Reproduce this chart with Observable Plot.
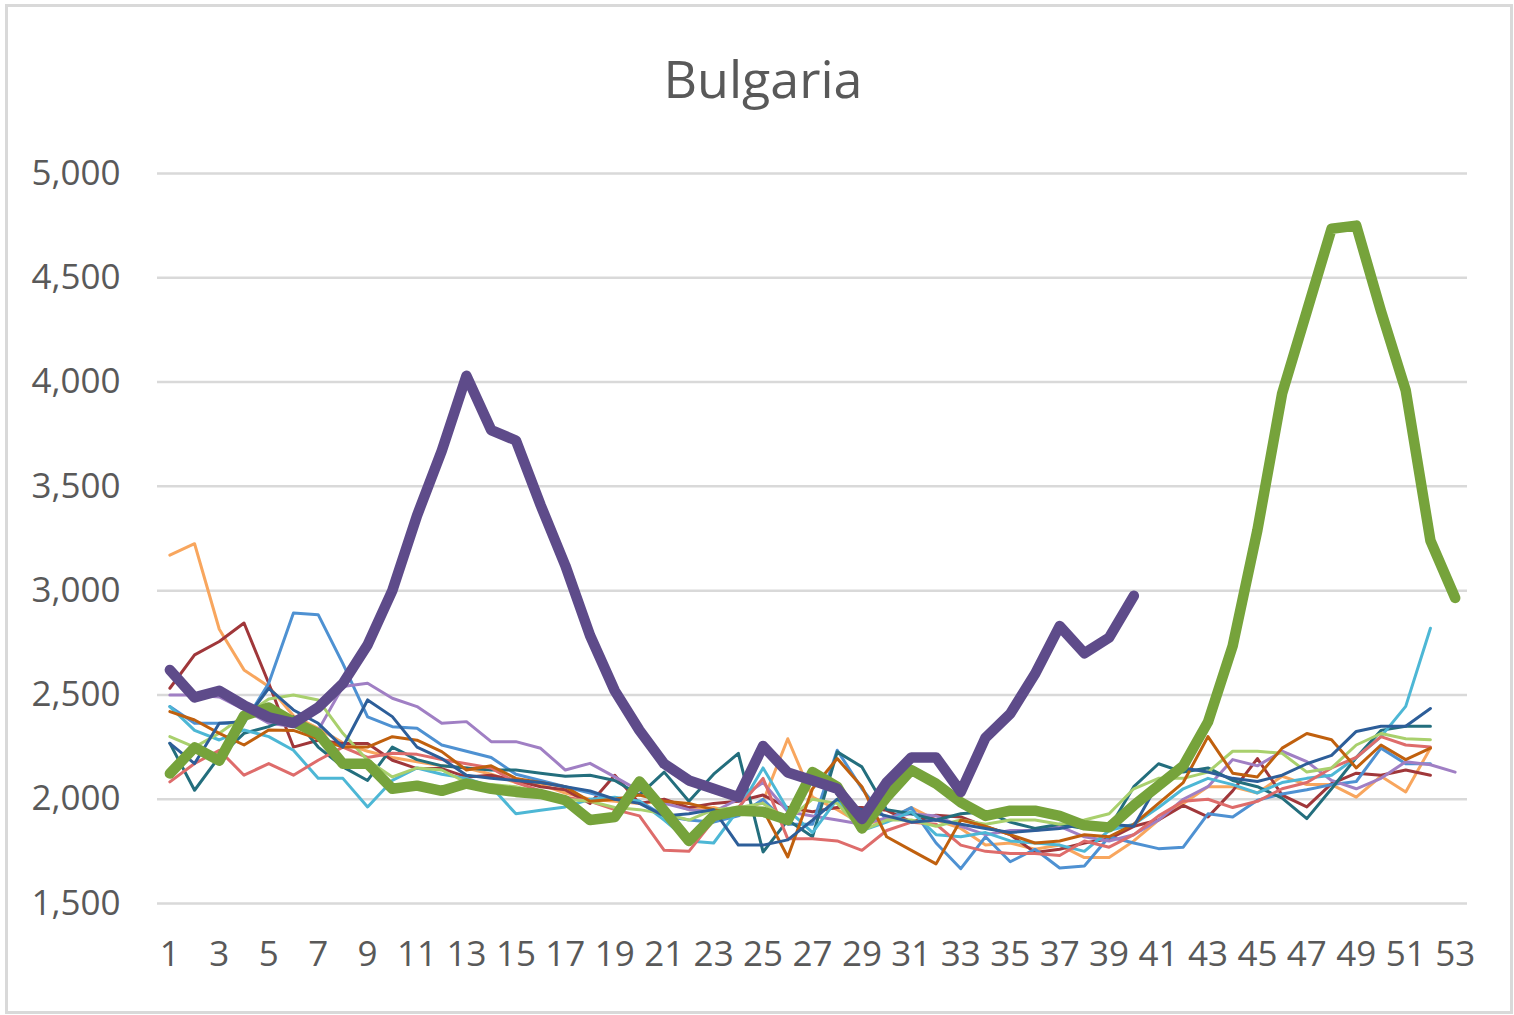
<!DOCTYPE html>
<html><head><meta charset="utf-8">
<script src="https://cdn.jsdelivr.net/npm/d3@7"></script>
<script src="https://cdn.jsdelivr.net/npm/@observablehq/plot@0.6"></script>
<style>
body{margin:0;background:#fff;}
#frame{position:absolute;left:5px;top:4px;width:1508px;height:1010px;border:3px solid #d9d9d9;box-sizing:border-box;pointer-events:none;}
#title{position:absolute;left:0;top:52px;width:1526px;text-align:center;font:52px/52px "Open Sans";color:#595959;}
#chart{position:absolute;left:0;top:130px;}
</style></head><body>
<div id="title">Bulgaria</div>
<div id="chart"></div>
<div id="frame"></div>
<script>
// ---- data (weekly deaths, Bulgaria) ----
const chartTitle = "Bulgaria";
const xTicks = [1,3,5,7,9,11,13,15,17,19,21,23,25,27,29,31,33,35,37,39,41,43,45,47,49,51,53];
const yTicks = [1500,2000,2500,3000,3500,4000,4500,5000];

const s_lightOrange = [3170,3225,2815,2620,2540,2400,2340,2270,2230,2200,2180,2160,2150,2120,2080,2070,2030,2000,1990,1980,1990,1950,1960,1930,1990,2290,2010,1950,1880,1900,1960,1900,1860,1780,1790,1760,1780,1720,1720,1800,1900,1980,2060,2060,2030,2110,2070,2070,2010,2110,2035,2245];
const s_darkRed = [2532,2692,2756,2845,2556,2250,2283,2267,2267,2187,2147,2147,2107,2115,2090,2060,2045,1980,2115,1980,2000,1960,1980,1990,2020,1960,1940,1960,1960,1947,1891,1923,1915,1870,1830,1745,1760,1790,1810,1870,1900,1970,1915,2040,2195,2020,1963,2075,2125,2115,2140,2115];
const s_lightBlue = [2444,2364,2364,2364,2556,2893,2885,2650,2395,2348,2340,2260,2230,2200,2120,2090,2060,2030,2000,1990,1920,1900,1890,1920,2000,1880,1880,2235,2050,1900,1960,1790,1667,1820,1700,1760,1670,1680,1820,1790,1763,1770,1930,1915,1995,2025,2045,2070,2085,2245,2170,2170];
const s_lightPurple = [2500,2500,2490,2430,2364,2348,2330,2540,2556,2484,2444,2364,2372,2276,2276,2244,2140,2172,2107,2040,1980,1950,1940,2000,2080,1940,1920,1900,1880,1910,1930,1920,1870,1830,1850,1850,1870,1820,1800,1830,1900,2000,2060,2190,2160,2230,2180,2090,2050,2100,2180,2165,2130];
const s_darkTeal = [2268,2043,2204,2316,2348,2395,2250,2155,2090,2250,2190,2160,2150,2140,2140,2125,2110,2115,2090,2020,2130,1990,2120,2220,1747,1900,1820,2227,2155,1950,1930,1900,1930,1940,1890,1860,1880,1860,1860,2060,2170,2130,2150,2090,2060,2005,1907,2050,2200,2330,2350,2350];
const s_cyan = [2444,2330,2284,2332,2300,2235,2100,2100,1963,2090,2150,2120,2100,2060,1930,1947,1963,2000,2010,1990,1900,1800,1790,1950,2150,1950,1840,2000,1850,1890,1940,1830,1820,1840,1800,1790,1780,1750,1850,1880,1960,2050,2100,2070,2030,2080,2100,2115,2200,2300,2445,2820];
const s_pink = [2083,2171,2235,2115,2171,2115,2187,2250,2200,2220,2215,2190,2170,2150,2080,2040,2010,1990,1950,1920,1755,1750,1900,1960,2100,1810,1810,1800,1755,1850,1890,1880,1780,1750,1740,1740,1730,1800,1770,1830,1920,1990,2000,1960,1990,2050,2080,2150,2200,2300,2260,2250];
const s_lightGreen = [2300,2250,2316,2400,2480,2500,2476,2316,2187,2107,2150,2140,2080,2070,2060,2030,2000,1990,1960,1950,1930,1900,1950,1960,1980,1900,2000,1980,1850,1900,1900,1870,1900,1880,1900,1900,1880,1900,1930,2050,2100,2100,2130,2230,2230,2220,2130,2150,2260,2315,2290,2285];
const s_darkOrange = [2420,2380,2316,2260,2332,2330,2290,2250,2250,2300,2283,2228,2140,2160,2100,2080,2060,1990,2000,2020,1990,1980,1950,1930,1950,1723,2050,2195,2060,1820,1755,1690,1900,1870,1830,1790,1800,1830,1820,1880,1980,2080,2300,2125,2107,2245,2315,2285,2150,2260,2190,2245];
const s_darkBlue = [2268,2171,2364,2372,2532,2428,2364,2250,2476,2396,2250,2195,2115,2100,2090,2080,2060,2040,2000,1980,1920,1930,1950,1780,1780,1805,1900,2000,1950,1920,1890,1900,1880,1860,1840,1850,1860,1880,1880,1870,2080,2150,2130,2100,2085,2115,2170,2210,2325,2350,2350,2435];
const s_2020 = [2123,2248,2185,2400,2440,2370,2315,2170,2170,2050,2065,2040,2075,2050,2035,2025,1995,1900,1915,2085,1945,1800,1920,1945,1940,1900,2130,2060,1860,2010,2140,2075,1985,1920,1945,1945,1920,1875,1865,1970,2065,2160,2370,2735,3290,3945,4340,4735,4750,4340,3960,3240,2965];
const s_2021 = [2620,2488,2520,2450,2393,2365,2440,2555,2740,3000,3360,3670,4030,3770,3720,3410,3120,2785,2520,2330,2170,2090,2050,2010,2255,2128,2090,2050,1905,2080,2200,2200,2035,2295,2410,2600,2830,2700,2775,2975];

const thinNames = ["lightOrange","darkRed","lightBlue","lightPurple","darkTeal","cyan","pink","lightGreen","darkOrange","darkBlue"];
const thinSeries = [s_lightOrange,s_darkRed,s_lightBlue,s_lightPurple,s_darkTeal,s_cyan,s_pink,s_lightGreen,s_darkOrange,s_darkBlue];
const thinColors = ["#f8a65e","#a0373a","#4e91d2","#a07fc4","#236e7d","#4db7d5","#de6c6b","#a9d06d","#c0600e","#2d5e99"];
const thickNames = ["2020","2021"];
const thickSeries = [s_2020, s_2021];
const thickColors = ["#76a33b","#5e4b8a"];

const toRows = (names, series) => names.flatMap((n, i) => series[i].map((v, j) => ({series: n, week: j + 1, value: v})));
const thinRows = toRows(thinNames, thinSeries);
const thickRows = toRows(thickNames, thickSeries);

document.getElementById("title").textContent = chartTitle;

const plot = Plot.plot({
  width: 1514,
  height: 885,
  marginLeft: 157,
  marginRight: 47,
  marginTop: 43,
  marginBottom: 112,
  style: {background: "transparent", fontFamily: "Open Sans", fontSize: "35px", color: "#595959"},
  x: {type: "linear", domain: [0.5, 53.5]},
  y: {domain: [1500, 5000]},
  color: {domain: [...thinNames, ...thickNames], range: [...thinColors, ...thickColors]},
  marks: [
    Plot.gridY(yTicks, {stroke: "#d9d9d9", strokeOpacity: 1, strokeWidth: 2.5}),
    Plot.axisY(yTicks, {tickSize: 0, tickPadding: 37, tickFormat: d3.format(","), fill: "#595959", fontSize: 35, label: null}),
    Plot.axisX(xTicks, {tickSize: 0, tickPadding: 38, tickFormat: d => String(d), fill: "#595959", fontSize: 35, label: null}),
    Plot.line(thinRows, {x: "week", y: "value", z: "series", stroke: "series", strokeWidth: 3, strokeLinejoin: "round", strokeLinecap: "round"}),
    Plot.line(thickRows, {x: "week", y: "value", z: "series", stroke: "series", strokeWidth: 10.5, strokeLinejoin: "round", strokeLinecap: "round"})
  ]
});
document.getElementById("chart").appendChild(plot);
</script>
</body></html>
